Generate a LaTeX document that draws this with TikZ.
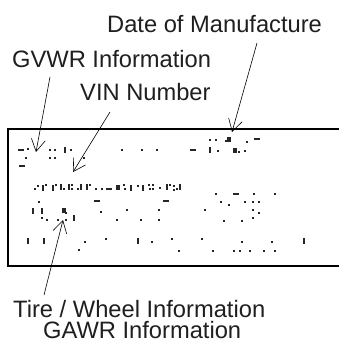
\documentclass[tikz,border=0pt]{standalone}
\usepackage{fontspec}
\setmainfont{Liberation Sans}
\usetikzlibrary{arrows.meta}
\newcommand\pd[2]{\fill[dotc] ({#1-1.3},{#2-1.3}) rectangle ++(2.6,2.6);}
\newcommand\ph[2]{\fill[dotc] ({#1-3},{#2-1.3}) rectangle ++(6,2.6);}
\newcommand\pv[2]{\fill[dotc] ({#1-1.3},{#2-3}) rectangle ++(2.6,6);}
\newcommand\pb[2]{\fill[dotc] ({#1-2.2},{#2-2.5}) rectangle ++(4.4,5);}
\begin{document}
\begin{tikzpicture}[x=1pt,y=-1pt,
  lbl/.style={anchor=base west,inner sep=0pt,text depth=0pt,text=black!88,font=\fontsize{23.7}{27}\selectfont},
  ptr/.style={line width=0.6pt,-{Straight Barb[length=12pt,width=14pt,line width=0.6pt]}},
  dotc/.style={black!85}]
\useasboundingbox (0,0) rectangle (338,342);
\fill[white] (0,0) rectangle (338,342);
% labels
\node[lbl] (dom) at (107,33) {Date of Manufacture};
\node[lbl] (gvwr) at (12,68) {GVWR Information};
\node[lbl] (vin) at (80,100) {VIN Number};
\node[lbl] (tire) at (13,317) {Tire / Wheel Information};
\node[lbl] (gawr) at (43,338.5) {GAWR Information};
% label frame
\draw[line width=1.5pt] (340,129) -- (8,129) -- (8,266) -- (340,266);
% top rows
\ph{21}{150} \pd{28}{149} \pd{26}{158} \ph{22}{166}
\pd{50}{150} \pd{55}{150} \pd{50}{158} \pd{55}{158}
\pv{65}{150} \pd{71}{150} \pd{84}{158}
\pd{122}{150} \pd{142}{150} \pd{157}{150} \ph{193}{150}
\pd{210}{140} \pd{216}{140} \pb{229}{139} \pd{226}{141} \pd{247}{142} \ph{257}{139}
\pv{210}{150} \pd{218}{151} \pb{235}{150} \pd{239}{152} \pd{245}{151}
% VIN row
\pd{35}{189} \pd{38}{186}
\pv{43}{188} \pd{46}{185}
\pv{53}{188} \pd{56}{185}
\pv{61}{187} \pd{64}{189}
\pv{69}{187} \pd{72}{185} \pd{72}{189}
\pd{78}{189} \pv{81}{187}
\pv{87}{187} \pd{90}{185}
\pd{96}{189} \pd{102}{189}
\ph{109}{189} \pb{118}{187}
\pd{124}{185} \pd{125}{189}
\pv{131}{188} \pd{138}{186} \pv{143}{188}
\pd{149}{185} \pd{153}{185} \pd{153}{189} \pd{150}{189}
\pd{160}{188}
\pv{167}{187} \pd{170}{185}
\pd{174}{186} \pd{174}{190}
\pv{180}{187} \pd{177}{189}
% middle rows
\pd{216}{194} \ph{236}{194} \pd{254}{194} \pd{275}{194}
\pd{39}{202} \ph{97}{201} \ph{166}{201}
\pd{221}{202} \pd{229}{205} \pd{245}{202} \pd{253}{202} \pd{259}{202}
\pv{33}{211} \pv{42}{211} \pb{64}{210} \pd{66}{213} \pd{101}{212} \pd{127}{210} \pd{159}{210}
\pd{205}{210} \pd{253}{210} \pd{259}{213}
\pd{42}{218} \pd{47}{220} \pd{58}{220} \pd{66}{220} \pv{74}{218}
\pd{117}{220} \pd{141}{220} \pd{159}{220}
\pd{224}{221} \pd{242}{221} \pd{253}{218}
% bottom rows
\pv{28}{241} \pv{44}{241} \pd{85}{242} \pd{106}{239} \pv{138}{241} \pd{152}{242}
\pd{172}{239} \pd{202}{239} \pd{242}{242} \pd{272}{242} \pv{304}{241}
\pd{79}{250} \pd{179}{251} \pd{213}{251} \pd{234}{251} \pd{240}{251} \pd{250}{251} \pd{264}{251} \pd{275}{251}
% pointers
\coordinate (g0) at (50,77);   \coordinate (g1) at (36,152);
\coordinate (v0) at (110,112); \coordinate (v1) at (73,172);
\coordinate (d0) at (257,43);  \coordinate (d1) at (232,132);
\coordinate (t0) at (44,295);  \coordinate (t1) at (63,220);
\draw[ptr] (g0) -- (g1);
\draw[ptr] (v0) -- (v1);
\draw[ptr] (d0) -- (d1);
\draw[ptr] (t0) -- (t1);
\end{tikzpicture}
\end{document}
